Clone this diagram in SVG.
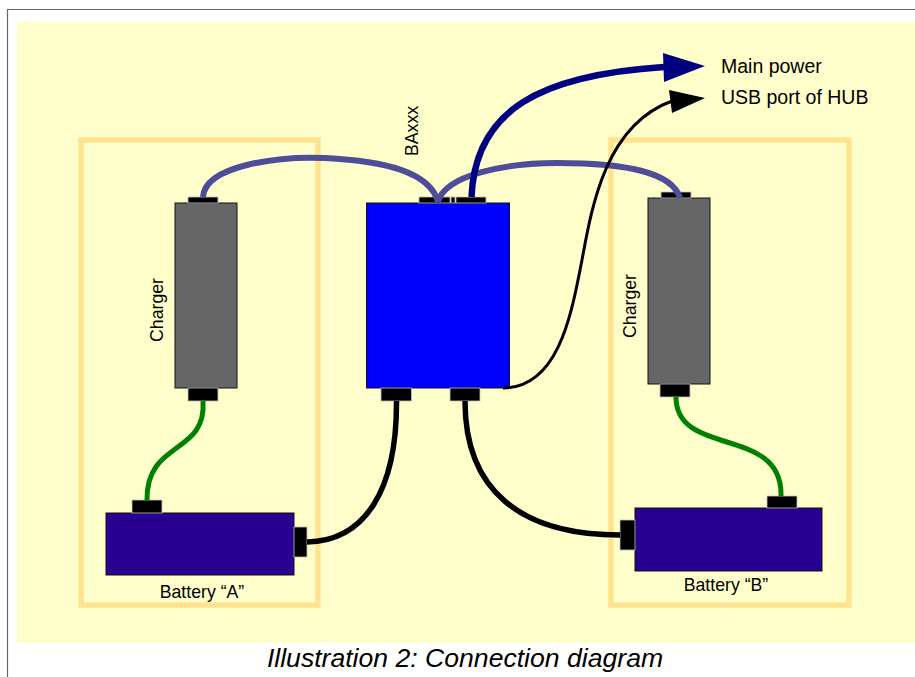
<svg xmlns="http://www.w3.org/2000/svg" width="915" height="677" viewBox="0 0 915 677">
<style>
.t{font-family:"Liberation Sans",Arial,sans-serif;font-size:17.700px;fill:#000}
.big{font-size:19.500px}
.cap{font-size:26.600px;font-style:italic}
.frame{fill:none;stroke:#ffe38e;stroke-width:5.500}
.plug{fill:#000;stroke:#c4c4c4;stroke-width:.8}
.dev{stroke:#111;stroke-width:1}
.w{fill:none;stroke-linecap:butt}
</style>
<rect width="915" height="677" fill="#fff"/>
<path d="M7.500 677V9.500H915" fill="none" stroke="#666" stroke-width="1.200"/>
<rect x="17" y="22" width="898" height="621" fill="#ffffcc"/>
<g id="frames">
<rect class="frame" x="81" y="140" width="237" height="465"/>
<rect class="frame" x="611" y="140" width="238" height="465"/>
</g>
<g id="charger-a">
<rect class="dev" x="175" y="203" width="62" height="185" fill="#666"/>
<rect class="plug" x="188" y="197" width="30" height="6"/>
<rect class="plug" x="188" y="388" width="30" height="13"/>
<text class="t" transform="translate(163,310) rotate(-90)" text-anchor="middle">Charger</text>
</g>
<g id="charger-b">
<rect class="dev" x="648" y="198" width="62" height="186" fill="#666"/>
<rect class="plug" x="661" y="192" width="30" height="6"/>
<rect class="plug" x="660" y="384" width="30" height="13"/>
<text class="t" transform="translate(636,306) rotate(-90)" text-anchor="middle">Charger</text>
</g>
<g id="baxxx">
<rect class="dev" x="366.500" y="203" width="143" height="185" fill="#0000ff"/>
<rect class="plug" x="419" y="197" width="31" height="6"/>
<rect class="plug" x="451" y="197" width="4" height="6"/>
<rect class="plug" x="456" y="197" width="30" height="6"/>
<rect class="plug" x="381" y="388" width="30.500" height="13"/>
<rect class="plug" x="450" y="388" width="30" height="13"/>
<text class="t" transform="translate(418,156) rotate(-90)">BAxxx</text>
</g>
<g id="battery-a">
<rect class="dev" x="106" y="513" width="188" height="62" fill="#280092"/>
<rect class="plug" x="132" y="500" width="30" height="13"/>
<rect class="plug" x="294" y="527" width="13" height="30"/>
<text class="t" x="202" y="598" text-anchor="middle">Battery “A”</text>
</g>
<g id="battery-b">
<rect class="dev" x="635" y="508" width="187" height="63" fill="#280092"/>
<rect class="plug" x="767" y="496" width="30" height="12"/>
<rect class="plug" x="620" y="520" width="15" height="30"/>
<text class="t" x="726" y="591" text-anchor="middle">Battery “B”</text>
</g>
<g id="connectors">
<path class="w" d="M203 197C205 165 280 156 325 158C385 161 430 172 438 202" stroke="#4d4d99" stroke-width="6"/>
<path class="w" d="M438 202C445 175 505 163 557 163C625 163 672 172 680 198" stroke="#4d4d99" stroke-width="6"/>
<path class="w" d="M471.500 197C475 110 540 75 664 67" stroke="#000080" stroke-width="6.500"/>
<path d="M663 53L705 66L664 82Z" fill="#000080"/>
<path class="w" d="M503 388C560 388 572 310 582 260C592 205 606 125 672 101" stroke="#000" stroke-width="3"/>
<path d="M669 90L705 98L672 113Z" fill="#000"/>
<path class="w" d="M203 401C207 455 146 440 147 500" stroke="#008000" stroke-width="5"/>
<path class="w" d="M676 397C676 458 783 425 781 496" stroke="#008000" stroke-width="5"/>
<path class="w" d="M396.500 401C397 490 365 541 307 542" stroke="#000" stroke-width="5.500"/>
<path class="w" d="M465 401C465 490 520 535 620 535" stroke="#000" stroke-width="5.500"/>
</g>
<text class="t big" x="721" y="73">Main power</text>
<text class="t big" x="721" y="104">USB port of HUB</text>
<text class="t cap" x="465" y="667" text-anchor="middle">Illustration 2: Connection diagram</text>
</svg>
